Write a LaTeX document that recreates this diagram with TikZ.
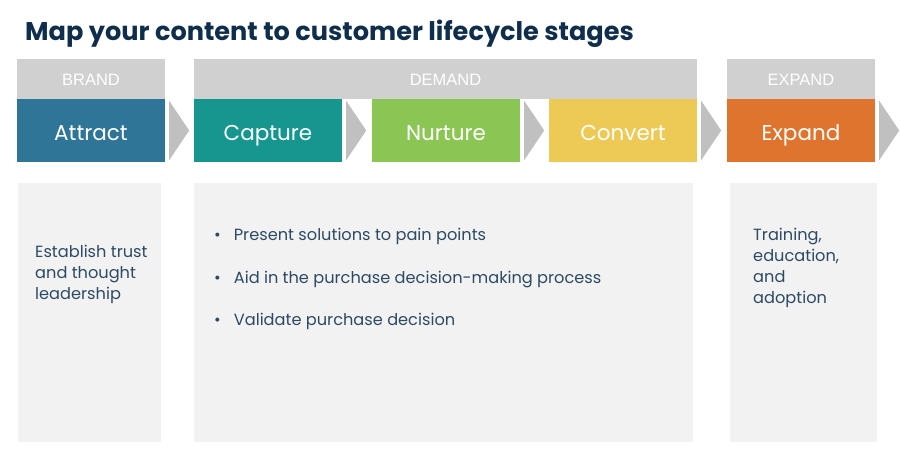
\documentclass[tikz,border=0pt]{standalone}
\usepackage{fontspec}
\setmainfont{Poppins}
\newfontfamily\hdrfont{Liberation Sans}
\definecolor{titlec}{HTML}{0F2E4C}
\definecolor{textc}{HTML}{2D4A64}
\definecolor{hdrgray}{HTML}{D0D0D0}
\definecolor{chevgray}{HTML}{C0C0C0}
\definecolor{panelgray}{HTML}{F2F2F2}
\definecolor{cattract}{HTML}{2E7597}
\definecolor{ccapture}{HTML}{16968F}
\definecolor{cnurture}{HTML}{8BC553}
\definecolor{cconvert}{HTML}{EDC956}
\definecolor{cexpand}{HTML}{DF742E}
\tikzset{
  x=1pt, y=-1pt,
  hdr/.style={fill=hdrgray, inner sep=0pt, text=white, text height=13pt, text depth=0pt, font=\hdrfont\fontsize{16.5}{18}\selectfont},
  stage/.style={inner sep=0pt, minimum width=148pt, minimum height=63pt, text=white, text height=24pt, text depth=4pt, font=\fontsize{21.5}{26}\selectfont},
  panel/.style={fill=panelgray, inner sep=0pt},
  chev/.style={fill=chevgray},
  body/.style={text=textc, font=\fontsize{16.2}{21}\selectfont, align=left, anchor=north west, inner sep=0pt},
}
\begin{document}
\begin{tikzpicture}
\useasboundingbox[fill=white] (0,0) rectangle (900,463);
% title
\node[anchor=base west, inner sep=0pt, text=titlec, font=\fontsize{25.6}{30}\selectfont\bfseries] (title) at (25,40) {Map your content to customer lifecycle stages};
% header bars
\node[hdr, minimum width=148pt, minimum height=40pt] (brand) at (91,79) {BRAND};
\node[hdr, minimum width=503pt, minimum height=40pt] (demand) at (445.5,79) {DEMAND};
\node[hdr, minimum width=148pt, minimum height=40pt] (expandh) at (801,79) {EXPAND};
% stages
\node[stage, fill=cattract] (attract) at (91,130.5) {Attract};
\node[stage, fill=ccapture] (capture) at (268,130.5) {Capture};
\node[stage, fill=cnurture] (nurture) at (446,130.5) {Nurture};
\node[stage, fill=cconvert] (convert) at (623,130.5) {Convert};
\node[stage, fill=cexpand] (expand) at (801,130.5) {Expand};
% chevrons
\foreach \s in {attract,capture,nurture,convert,expand}{
  \fill[chev] ([xshift=4pt,yshift=-2pt]\s.north east) -- ([xshift=24pt]\s.east) -- ([xshift=4pt,yshift=2pt]\s.south east) -- cycle;
}
% panels
\node[panel, minimum width=143pt, minimum height=259pt] (p1) at (89.5,312.5) {};
\node[panel, minimum width=499pt, minimum height=259pt] (p2) at (443.5,312.5) {};
\node[panel, minimum width=147pt, minimum height=259pt] (p3) at (803.5,312.5) {};
% panel texts
\node[body] (t1) at (35,245) {Establish trust\\and thought\\leadership};
\node[body, font=\fontsize{16.2}{42.5}\selectfont] (t2) at (214,228) {\textbullet\hspace{13pt}Present solutions to pain points\\\textbullet\hspace{13pt}Aid in the purchase decision-making process\\\textbullet\hspace{13pt}Validate purchase decision};
\node[body] (t3) at (753,228) {Training,\\education,\\and\\adoption};
\end{tikzpicture}
\end{document}
